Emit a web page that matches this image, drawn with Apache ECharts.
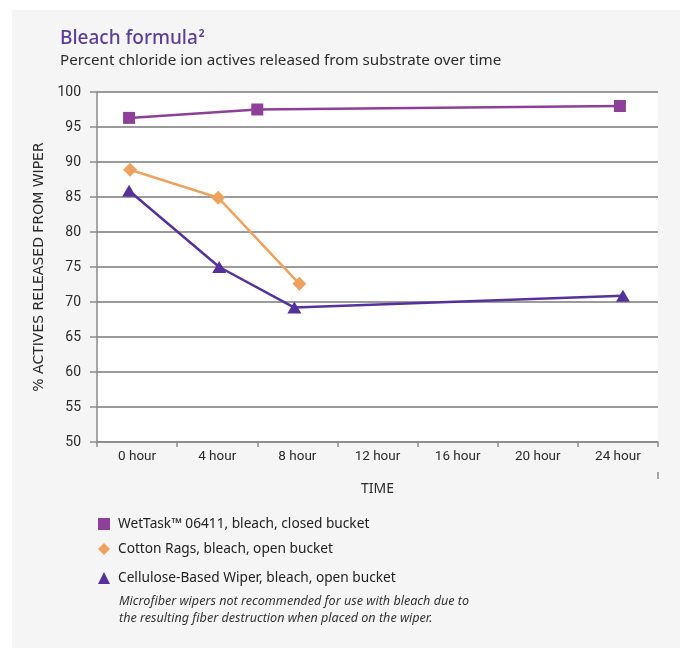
<!DOCTYPE html>
<html>
<head>
<meta charset="utf-8">
<script src="https://cdn.jsdelivr.net/npm/echarts@6/dist/echarts.min.js"></script>
<style>
  body { margin: 0; background: #fff; }
  #wrap { position: relative; width: 686px; height: 649px; background: #fff; }
  #panel { position: absolute; left: 12px; top: 10px; width: 668px; height: 638px; background: #f5f5f5; }
  #chart { position: absolute; left: 0; top: 0; width: 686px; height: 649px; }
</style>
</head>
<body>
<div id="wrap">
  <div id="panel"></div>
  <div id="chart"></div>
</div>
<script>
// tick labels along the bottom
const timeLabels = ["0 hour", "4 hour", "8 hour", "12 hour", "16 hour", "20 hour", "24 hour"];

// series: [hours, percent]
const wetTask = [[-0.4, 96.3], [6, 97.5], [24.1, 98.0]];
const cottonRags = [[-0.35, 88.9], [4.05, 84.9], [8.1, 72.6]];
const cellulose = [[-0.4, 85.9], [4.1, 75.0], [7.85, 69.2], [24.25, 70.9]];

const names = [
  "WetTask\u2122 06411, bleach, closed bucket",
  "Cotton Rags, bleach, open bucket",
  "Cellulose-Based Wiper, bleach, open bucket"
];
const colors = ["#8e3f98", "#eda35f", "#55329b"];

const narrow = "Roboto, sans-serif";
const plain = "'Noto Sans', sans-serif";

const chart = echarts.init(document.getElementById("chart"));

function legendItem(i, icon, top) {
  return {
    show: true,
    left: 93,
    top: top,
    orient: "vertical",
    data: [{ name: names[i], icon: icon }],
    itemWidth: 12,
    itemHeight: 12,
    selectedMode: false,
    textStyle: { fontFamily: plain, fontSize: 13.7, color: "#222", padding: [0, 0, 0, 3] }
  };
}

chart.setOption({
  animation: false,
  backgroundColor: "transparent",
  color: colors,
  title: {
    left: 55,
    top: 24,
    text: "{a|Bleach formula}{b|2}",
    subtext: "Percent chloride ion actives released from substrate over time",
    itemGap: 5,
    textStyle: {
      rich: {
        a: { fontFamily: plain, fontSize: 19, color: "#5b3d9b", fontWeight: 500 },
        b: { fontFamily: plain, fontSize: 10, color: "#5b3d9b", verticalAlign: "top", padding: [0, 0, 8, 1] }
      }
    },
    subtextStyle: { fontFamily: plain, fontSize: 15.2, color: "#2b2b2b" }
  },
  legend: [
    legendItem(0, "rect", 512),
    legendItem(1, "diamond", 537),
    legendItem(2, "triangle", 566)
  ],
  grid: {
    left: 97, right: 28, top: 92, bottom: 207,
    show: true, backgroundColor: "#fff", borderWidth: 0
  },
  xAxis: [
    {
      type: "category",
      data: timeLabels,
      boundaryGap: true,
      name: "TIME",
      nameLocation: "middle",
      nameGap: 40,
      nameTextStyle: { fontFamily: plain, fontSize: 14, color: "#2b2b2b" },
      axisLine: { lineStyle: { color: "#8a8a8a", width: 1.5 } },
      axisTick: { show: true, alignWithLabel: false, length: 5, lineStyle: { color: "#8a8a8a", width: 1.5 } },
      axisLabel: { fontFamily: narrow, fontSize: 13.5, color: "#2b2b2b", margin: 8 },
      splitLine: { show: false }
    },
    {
      type: "value",
      min: -2,
      max: 26,
      show: false
    }
  ],
  yAxis: {
    type: "value",
    min: 50,
    max: 100,
    interval: 5,
    name: "% ACTIVES RELEASED FROM WIPER",
    nameLocation: "middle",
    nameGap: 45,
    nameTextStyle: { fontFamily: "'DejaVu Sans', sans-serif", fontSize: 14, color: "#2b2b2b" },
    axisLine: { show: true, onZero: false, lineStyle: { color: "#8a8a8a", width: 1.5 } },
    axisTick: { show: true, length: 7, lineStyle: { color: "#8a8a8a", width: 1.5 } },
    axisLabel: { fontFamily: narrow, fontSize: 14, color: "#2b2b2b", margin: 16 },
    splitLine: { lineStyle: { color: "#7a7a7a", width: 1.5 } }
  },
  graphic: [
    {
      type: "group",
      children: [
        {
          type: "text",
          left: 119,
          top: 593,
          style: {
            text: "Microfiber wipers not recommended for use with bleach due to\nthe resulting fiber destruction when placed on the wiper.",
            font: "italic 12.6px 'Noto Sans', sans-serif",
            fill: "#333",
            lineHeight: 17
          }
        },
        {
          type: "line",
          shape: { x1: 658, y1: 472, x2: 658, y2: 479 },
          style: { stroke: "#8a8a8a", lineWidth: 1.5 }
        }
      ]
    }
  ],
  series: [
    {
      name: names[0],
      type: "line",
      xAxisIndex: 1,
      data: wetTask,
      symbol: "rect",
      symbolSize: 12,
      lineStyle: { width: 2.5, color: colors[0] },
      itemStyle: { color: colors[0] }
    },
    {
      name: names[1],
      type: "line",
      xAxisIndex: 1,
      data: cottonRags,
      symbol: "diamond",
      symbolSize: 14,
      lineStyle: { width: 2.5, color: colors[1] },
      itemStyle: { color: colors[1] }
    },
    {
      name: names[2],
      type: "line",
      xAxisIndex: 1,
      data: cellulose,
      symbol: "triangle",
      symbolSize: [14, 12],
      lineStyle: { width: 2.5, color: colors[2] },
      itemStyle: { color: colors[2] }
    }
  ]
});
</script>
</body>
</html>
